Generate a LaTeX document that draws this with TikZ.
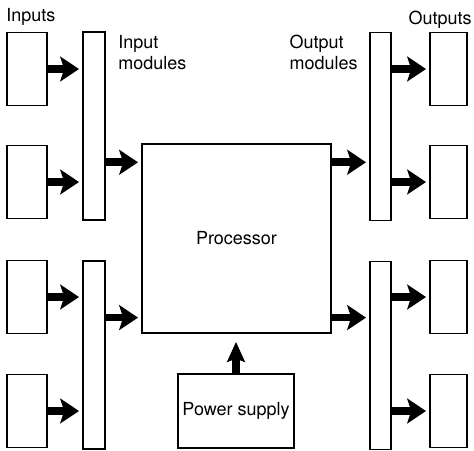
\documentclass[tikz,border=0pt]{standalone}
\usepackage{fontspec}
\setmainfont{TeX Gyre Heros}
\usetikzlibrary{arrows.meta,calc}

\begin{document}
\begin{tikzpicture}[x=0.025cm,y=-0.025cm,font=\fontsize{12.8}{15}\selectfont,
    box/.style={draw,line width=1.1pt,inner sep=0pt},
    unit/.style={box,minimum width=1cm,minimum height=1.825cm},
    bar/.style={box,minimum width=.55cm,minimum height=4.7cm},
    flow/.style={line width=1.9mm,-{Stealth[length=4.7mm,width=6.2mm,inset=1mm]},shorten >=.8mm},
    feed/.style={line width=2mm,-{Stealth[length=5mm,width=4.4mm,inset=.8mm]},shorten >=2mm}]
  \useasboundingbox (0,0) rectangle (474,450);
  % input and output units
  \foreach \i/\y in {1/69,2/182,3/297,4/411}{
    \node[unit] (in\i) at (27,\y) {};
    \node[unit,minimum width=.925cm] (out\i) at (448.5,\y) {};}
  % module racks
  \node[bar] (imod1) at (94,126) {};
  \node[bar] (imod2) at (94,355) {};
  \node[bar,minimum width=.525cm] (omod1) at (380.5,126.5) {};
  \node[bar,minimum width=.525cm] (omod2) at (380.5,355.5) {};
  \node[box,minimum size=4.725cm] (proc) at (236.5,238.5) {Processor};
  \node[box,minimum width=2.9cm,minimum height=1.85cm] (power) at (236,411) {Power supply};
  % labels
  \node[anchor=base west,inner sep=0pt] (intitle) at (6,21) {Inputs};
  \node[anchor=base east,inner sep=0pt] (outtitle) at (472,24) {Outputs};
  \node[anchor=north west,align=left,inner sep=0pt] (inlabel) at (118,35) {Input\\modules};
  \node[anchor=north east,align=left,inner sep=0pt] (outlabel) at (358,35) {Output\\modules};
  % signal flow
  \foreach \i/\m in {1/imod1,2/imod1,3/imod2,4/imod2}
    \draw[flow] (in\i.east) -- (in\i.east -| \m.west);
  \foreach \i/\m in {1/omod1,2/omod1,3/omod2,4/omod2}
    \draw[flow] (\m.east |- out\i.west) -- (out\i.west);
  \coordinate (pin1) at ($(proc.north west)!.1!(proc.south west)$);
  \coordinate (pin2) at ($(proc.north west)!.915!(proc.south west)$);
  \coordinate (pout1) at ($(proc.north east)!.1!(proc.south east)$);
  \coordinate (pout2) at ($(proc.north east)!.915!(proc.south east)$);
  \draw[flow] (imod1.east |- pin1) -- (pin1);
  \draw[flow] (imod2.east |- pin2) -- (pin2);
  \draw[flow] (pout1) -- (pout1 -| omod1.west);
  \draw[flow] (pout2) -- (pout2 -| omod2.west);
  \draw[feed] (power.north) -- (power.north |- proc.south);
\end{tikzpicture}
\end{document}
